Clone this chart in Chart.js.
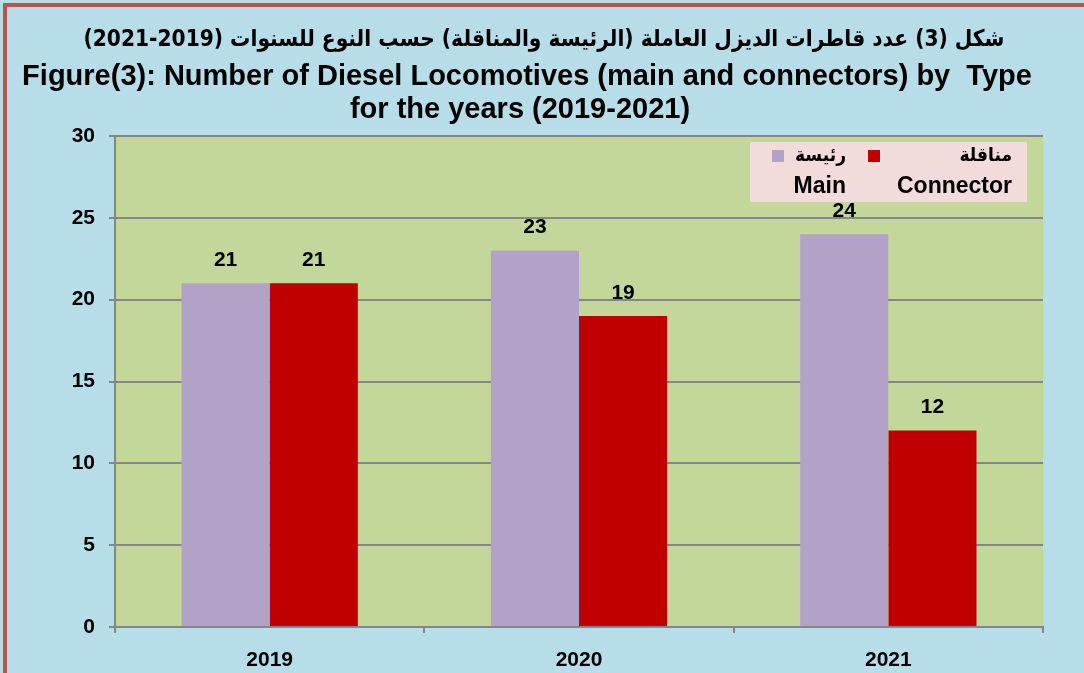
<!DOCTYPE html>
<html>
<head>
<meta charset="utf-8">
<script src="https://cdn.jsdelivr.net/npm/chart.js@4.4.0/dist/chart.umd.min.js"></script>
<style>
  html, body { margin: 0; padding: 0; background: #b7dee8; }
  #wrap { width: 1084px; height: 673px; position: relative; }
</style>
</head>
<body>
<div id="wrap"><canvas id="chart" width="1084" height="673"></canvas></div>
<script>
// data
const years = ['2019', '2020', '2021'];
const mainValues = [21, 23, 24];
const connectorValues = [21, 19, 12];
const seriesArabic = ['رئيسة', 'مناقلة'];
const seriesEnglish = ['Main', 'Connector'];
const yTicks = [0, 5, 10, 15, 20, 25, 30];

const titleArabic = 'شكل (3) عدد قاطرات الديزل العاملة (الرئيسة والمناقلة) حسب النوع للسنوات (2019-2021)';
const titleEnglish = ['Figure(3): Number of Diesel Locomotives (main and connectors) by  Type', 'for the years (2019-2021)'];

const colors = ['#b3a2c7', '#c00000'];
const boldFont = (size) => ({ family: '"Liberation Sans", Arial', size: size, weight: 'bold' });

// background, red frame, titles
const framePlugin = {
  id: 'frame',
  beforeDraw(chart) {
    const ctx = chart.ctx;
    ctx.save();
    ctx.fillStyle = '#b7dee8';
    ctx.fillRect(0, 0, chart.width, chart.height);
    ctx.fillStyle = '#c0504d';
    ctx.fillRect(3, 3, chart.width, 4);
    ctx.fillRect(3, 3, 4, chart.height);
    const a = chart.chartArea;
    ctx.fillStyle = '#c4d79b';
    ctx.fillRect(a.left, a.top, a.right - a.left, a.bottom - a.top);

    ctx.fillStyle = '#000';
    ctx.textAlign = 'center';
    ctx.textBaseline = 'middle';
    // arabic line, slightly condensed like the original
    ctx.save();
    ctx.translate(544, 40);
    ctx.scale(0.88, 1);
    ctx.font = 'bold 23px "DejaVu Sans", Arial, sans-serif';
    ctx.fillText(titleArabic, 0, 0);
    ctx.restore();
    ctx.font = 'bold 29px "Liberation Sans", Arial, sans-serif';
    ctx.fillText(titleEnglish[0], 527, 77);
    ctx.fillText(titleEnglish[1], 520, 110);
    ctx.restore();
  }
};

// value labels + legend box
const labelPlugin = {
  id: 'labels',
  afterDatasetsDraw(chart) {
    const ctx = chart.ctx;
    ctx.save();
    ctx.fillStyle = '#000';
    ctx.textAlign = 'center';
    ctx.textBaseline = 'middle';
    ctx.font = 'bold 21px "Liberation Sans", Arial, sans-serif';
    chart.data.datasets.forEach((ds, i) => {
      chart.getDatasetMeta(i).data.forEach((bar, j) => {
        ctx.fillText(ds.data[j], bar.x, bar.y - 23);
      });
    });

    // legend
    ctx.fillStyle = '#f2dcdb';
    ctx.fillRect(750, 142, 277, 60);
    ctx.fillStyle = colors[0];
    ctx.fillRect(772, 150, 12, 12);
    ctx.fillStyle = colors[1];
    ctx.fillRect(868, 150, 12, 12);
    ctx.fillStyle = '#000';
    ctx.textAlign = 'right';
    ctx.save();
    ctx.font = 'bold 19px "DejaVu Sans", Arial, sans-serif';
    ctx.translate(846, 156);
    ctx.scale(0.9, 1);
    ctx.fillText(seriesArabic[0], 0, 0);
    ctx.restore();
    ctx.save();
    ctx.font = 'bold 19px "DejaVu Sans", Arial, sans-serif';
    ctx.translate(1012, 156);
    ctx.scale(0.9, 1);
    ctx.fillText(seriesArabic[1], 0, 0);
    ctx.restore();
    ctx.font = 'bold 23px "Liberation Sans", Arial, sans-serif';
    ctx.fillText(seriesEnglish[0], 846, 187);
    ctx.fillText(seriesEnglish[1], 1012, 187);
    ctx.restore();
  }
};

new Chart(document.getElementById('chart').getContext('2d'), {
  type: 'bar',
  data: {
    labels: years,
    datasets: [
      { label: seriesEnglish[0], data: mainValues, backgroundColor: colors[0] },
      { label: seriesEnglish[1], data: connectorValues, backgroundColor: colors[1] }
    ]
  },
  options: {
    responsive: false,
    animation: false,
    layout: { padding: { top: 136, right: 41, left: 0, bottom: 0 } },
    plugins: {
      legend: { display: false },
      title: { display: false },
      tooltip: { enabled: false }
    },
    datasets: { bar: { categoryPercentage: 0.57, barPercentage: 1 } },
    scales: {
      x: {
        afterFit: (s) => { s.height = 46; },
        grid: { offset: true, drawOnChartArea: false, color: '#868686', tickLength: 6, lineWidth: 2 },
        border: { color: '#868686', width: 2 },
        ticks: { color: '#000', padding: 15, font: boldFont(21) }
      },
      y: {
        min: 0,
        max: 30,
        afterFit: (s) => { s.width = 115; },
        afterBuildTicks: (s) => { s.ticks = yTicks.map(v => ({ value: v })); },
        grid: { color: '#868686', tickLength: 6, lineWidth: 2 },
        border: { color: '#868686', width: 2 },
        ticks: { color: '#000', padding: 14, font: boldFont(21) }
      }
    }
  },
  plugins: [framePlugin, labelPlugin]
});
</script>
</body>
</html>
